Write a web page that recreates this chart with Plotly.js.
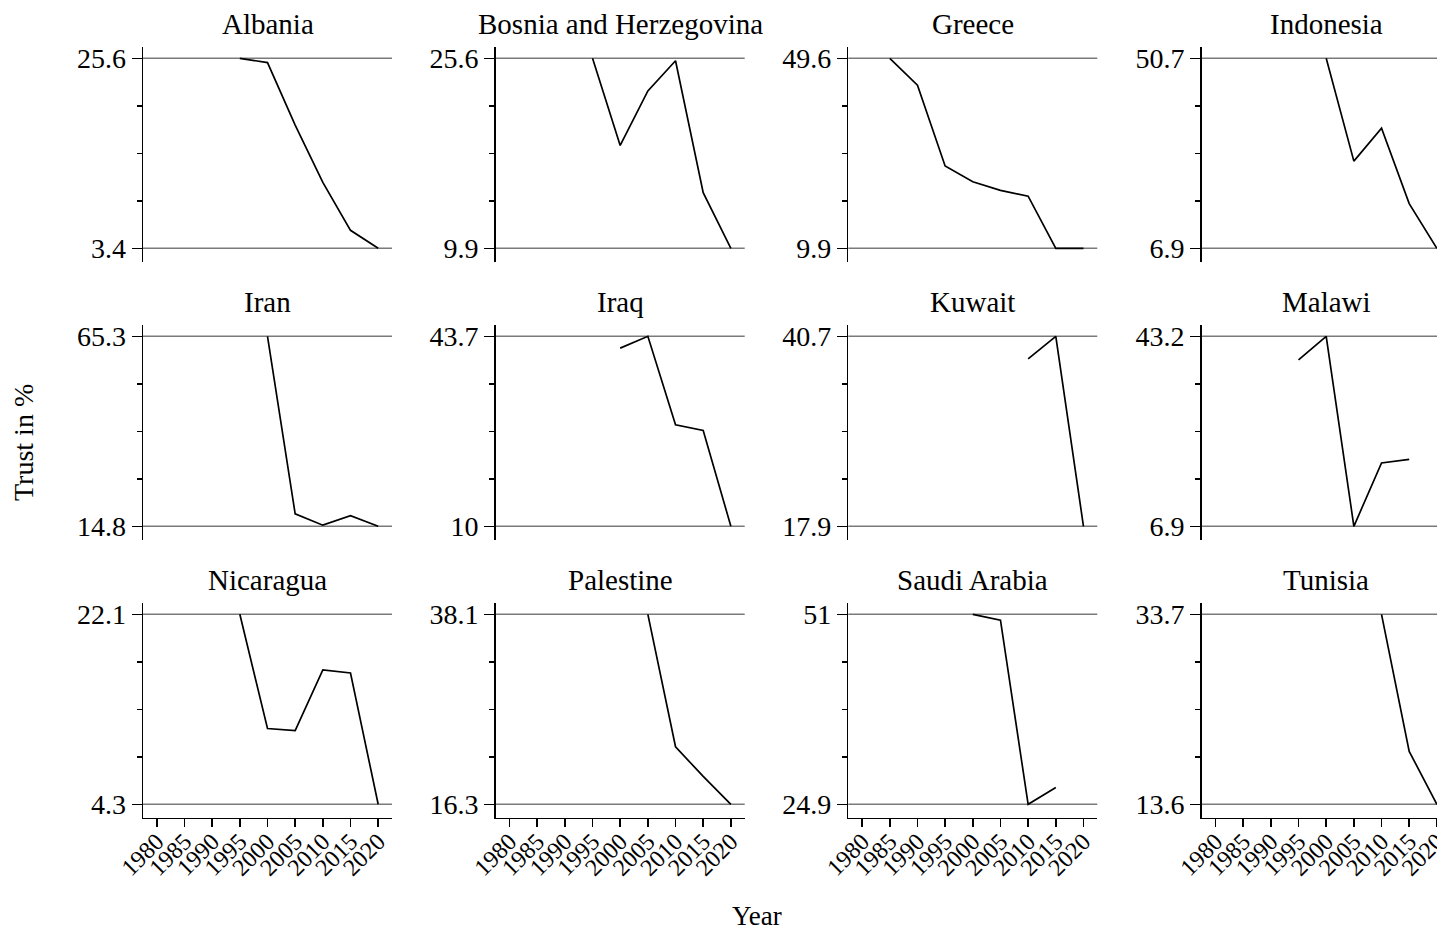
<!DOCTYPE html>
<html>
<head>
<meta charset="utf-8">
<script src="https://cdn.plot.ly/plotly-3.0.1.min.js"></script>
<style>
html, body { margin: 0; padding: 0; background: #fff; overflow: hidden; }
#chart { width: 1437px; height: 932px; }
</style>
</head>
<body>
<div id="chart"></div>
<script>
// ---- data ----
const countries = ["Albania", "Bosnia and Herzegovina", "Greece", "Indonesia",
                   "Iran", "Iraq", "Kuwait", "Malawi",
                   "Nicaragua", "Palestine", "Saudi Arabia", "Tunisia"];
const years = [1985, 1990, 1995, 2000, 2005, 2010, 2015, 2020];
const albania    = [null, null, 25.6, 25.1, 17.8, 11.1, 5.5, 3.4];
const bosnia     = [null, null, 25.6, 18.4, 22.9, 25.4, 14.5, 9.9];
const greece     = [49.6, 44.0, 27.1, 23.8, 22.0, 20.8, 9.9, 9.9];
const indonesia  = [null, null, null, 50.7, 27.0, 34.6, 17.2, 6.9];
const iran       = [null, null, null, 65.3, 18.1, 15.1, 17.6, 14.8];
const iraq       = [null, null, null, 41.6, 43.7, 28.0, 27.0, 10];
const kuwait     = [null, null, null, null, null, 38.0, 40.7, 17.9];
const malawi     = [null, null, 38.7, 43.2, 6.9, 19.0, 19.7, null];
const nicaragua  = [null, null, 22.1, 11.4, 11.2, 16.9, 16.6, 4.3];
const palestine  = [null, null, null, null, 38.1, 22.9, 19.5, 16.3];
const saudi      = [null, null, null, 51, 50.2, 24.9, 27.2, null];
const tunisia    = [null, null, null, null, null, 33.7, 19.2, 13.6];
const series = [albania, bosnia, greece, indonesia, iran, iraq, kuwait, malawi,
                nicaragua, palestine, saudi, tunisia];
const yMin = [3.4, 9.9, 9.9, 6.9, 14.8, 10, 17.9, 6.9, 4.3, 16.3, 24.9, 13.6];
const yMax = [25.6, 25.6, 49.6, 50.7, 65.3, 43.7, 40.7, 43.2, 22.1, 38.1, 51, 33.7];
const xTicks = [1980, 1985, 1990, 1995, 2000, 2005, 2010, 2015, 2020];

// ---- layout geometry (pixels) ----
const W = 1437, H = 932;
const FONT = "Liberation Serif, Times New Roman, serif";
const colX0 = [143, 495.7, 848.3, 1201.7];
const plotW = 249;
const rowTop = [46.7, 324.7, 602.7];
const rowBot = [261.5, 539.5, 817.5];
const padTop = 11.6, padBot = 13.2;
const xLo = 1977.5, xHi = 2022.5;
const pxPerYear = plotW / (xHi - xLo);

const traces = [];
const layout = {
  width: W, height: H,
  margin: {l: 0, r: 0, t: 0, b: 0, pad: 0},
  paper_bgcolor: "#fff", plot_bgcolor: "rgba(0,0,0,0)",
  showlegend: false,
  font: {family: FONT, color: "#000"},
  shapes: [], annotations: []
};

for (let i = 0; i < 12; i++) {
  const r = Math.floor(i / 4), c = i % 4;
  const n = i + 1;
  const xa = "xaxis" + (n === 1 ? "" : n), ya = "yaxis" + (n === 1 ? "" : n);
  const xid = "x" + (n === 1 ? "" : n), yid = "y" + (n === 1 ? "" : n);

  const x0 = colX0[c];
  let x1 = x0 + plotW;
  let hi = xHi;
  if (x1 > W) { hi = xLo + (W - x0) / pxPerYear; x1 = W; }

  const top = rowTop[r], bot = rowBot[r];
  const k = (yMax[i] - yMin[i]) / (bot - top - padTop - padBot);
  const lo = yMin[i] - padBot * k, up = yMax[i] + padTop * k;
  const q = (yMax[i] - yMin[i]) / 4;

  traces.push({
    x: years, y: series[i], type: "scatter", mode: "lines",
    line: {color: "#000", width: 1.7},
    xaxis: xid, yaxis: yid, hoverinfo: "skip", connectgaps: false
  });

  const bottomRow = (r === 2);
  layout[xa] = {
    domain: [x0 / W, x1 / W], range: [xLo, hi], anchor: yid,
    showgrid: false, zeroline: false,
    showline: bottomRow, linecolor: "#000", linewidth: 1.5,
    ticks: bottomRow ? "outside" : "", ticklen: 8, tickwidth: 1.5, tickcolor: "#000",
    tickmode: "array", tickvals: xTicks, ticktext: xTicks.map(String),
    showticklabels: bottomRow, tickangle: -45,
    ticklabeloverflow: "allow", ticklabelstandoff: -9,
    tickfont: {family: FONT, size: 24, color: "#000"}
  };
  layout[ya] = {
    domain: [1 - bot / H, 1 - top / H], range: [lo, up], anchor: xid,
    showgrid: false, zeroline: false,
    showline: true, linecolor: "#000", linewidth: 1.5,
    ticks: "outside", ticklen: 10, tickwidth: 1.5, tickcolor: "#000",
    tickmode: "array", tickvals: [yMin[i], yMax[i]],
    ticktext: [String(yMin[i]), String(yMax[i])],
    tickfont: {family: FONT, size: 28, color: "#000"},
    minor: {tickmode: "array", tickvals: [yMin[i] + q, yMin[i] + 2 * q, yMin[i] + 3 * q],
            ticks: "outside", ticklen: 5, tickwidth: 1.5, tickcolor: "#000", showgrid: false}
  };

  [yMin[i], yMax[i]].forEach(v => layout.shapes.push({
    type: "line", xref: xid + " domain", x0: 0, x1: 1, yref: yid, y0: v, y1: v,
    line: {color: "#7a7a7a", width: 1.5}, layer: "below"
  }));

  layout.annotations.push({
    text: countries[i], xref: "paper", yref: "paper",
    x: (colX0[c] + plotW / 2) / W, y: 1 - top / H,
    xanchor: "center", yanchor: "bottom", yshift: 5, showarrow: false,
    font: {family: FONT, size: 29, color: "#000"}
  });
}

layout.annotations.push({
  text: "Trust in %", xref: "paper", yref: "paper",
  x: 23 / W, y: 1 - 443 / H, xanchor: "center", yanchor: "middle",
  textangle: -90, showarrow: false, font: {family: FONT, size: 28, color: "#000"}
});
layout.annotations.push({
  text: "Year", xref: "paper", yref: "paper",
  x: 757 / W, y: 0, xanchor: "center", yanchor: "bottom", borderpad: 0,
  showarrow: false, font: {family: FONT, size: 27, color: "#000"}
});

Plotly.newPlot("chart", traces, layout, {staticPlot: true, displayModeBar: false});
</script>
</body>
</html>
